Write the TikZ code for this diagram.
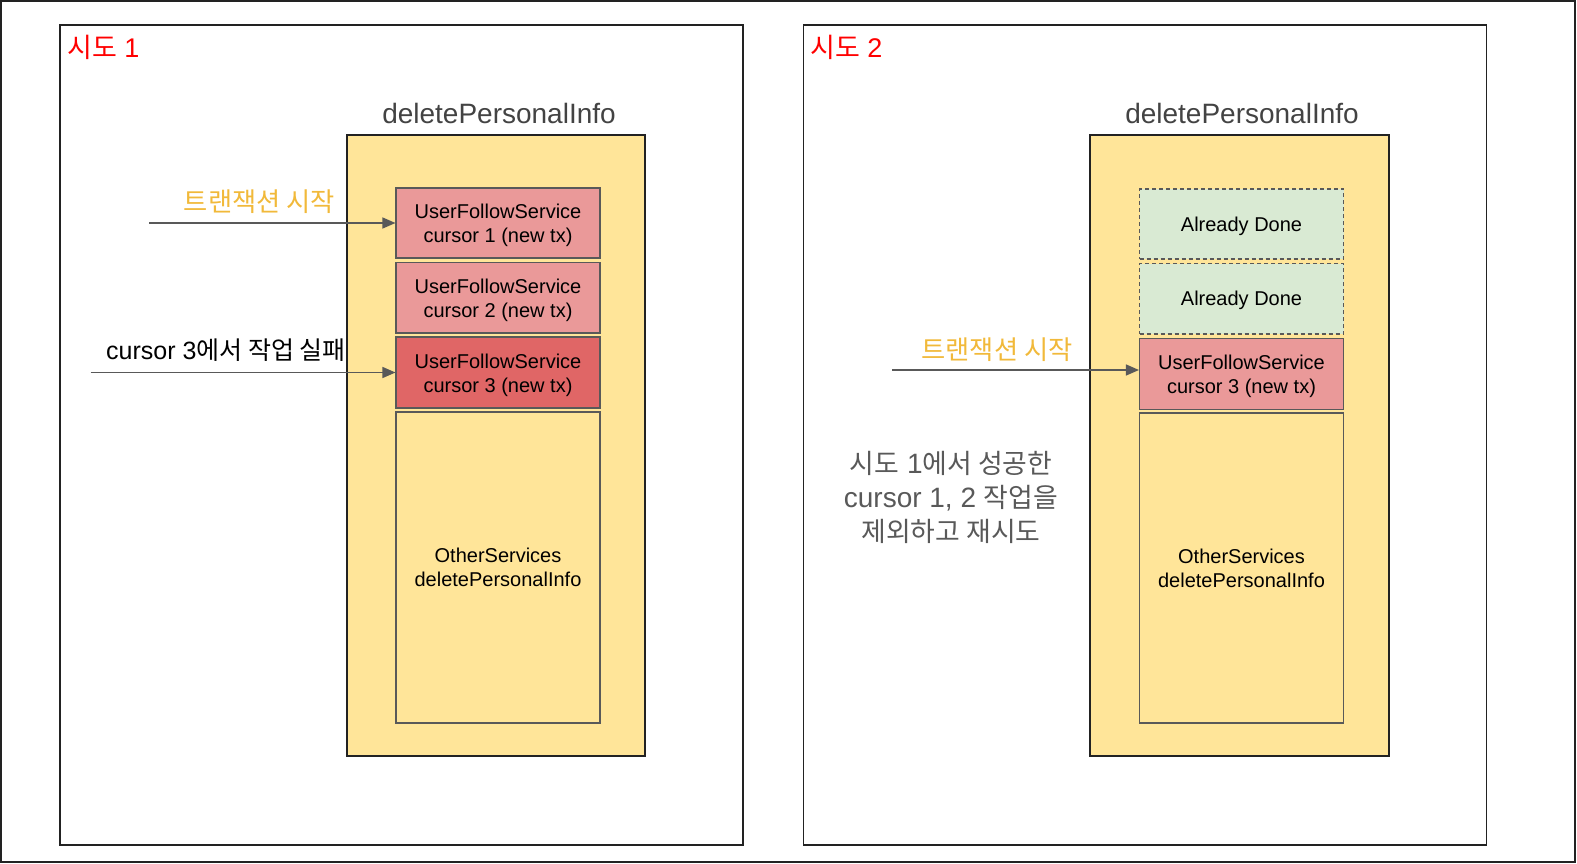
\documentclass[tikz,border=0pt]{standalone}
\usepackage{fontspec}
\setmainfont{Liberation Sans}
\newfontfamily\kr{Noto Sans CJK KR}
\newfontfamily\krn{Noto Sans CJK KR}[Scale=0.96]
\usetikzlibrary{arrows.meta}
\definecolor{cyellow}{HTML}{FFE599}
\definecolor{cpink}{HTML}{EA9999}
\definecolor{cred}{HTML}{E06666}
\definecolor{cgreen}{HTML}{D9EAD3}
\definecolor{cgray}{HTML}{595959}
\definecolor{ctitle}{HTML}{434343}
\definecolor{corange}{HTML}{F1B93A}
\definecolor{cframe}{HTML}{222222}
\newcommand\boxstrut{\rule{0pt}{20pt}}
\newcommand\linestrut{\rule{0pt}{18.6pt}}
\tikzset{
  frame/.style={draw=cframe, line width=1.5pt, inner sep=0pt, minimum width=683pt, minimum height=820pt},
  container/.style={draw=cframe, fill=cyellow, line width=1.3pt, inner sep=0pt, minimum width=298pt, minimum height=621pt},
  inbox/.style={draw=cgray, line width=1.1pt, inner sep=0pt, minimum width=204pt, align=center, text=black,
    font=\fontsize{20}{24}\selectfont},
  donebox/.style={inbox, fill=cgreen, dash pattern=on 4pt off 3pt},
  conn/.style={draw=cgray, line width=1.4pt, -{Triangle[length=13pt, width=11pt]}},
  title/.style={text=ctitle, font=\fontsize{28}{32}\selectfont, inner sep=0pt},
  attempt/.style={text=red, font=\fontsize{27}{30}\selectfont, inner sep=0pt, anchor=west},
  txlabel/.style={text=corange, font=\kr\fontsize{26.3}{30}\selectfont, inner sep=0pt},
  faillabel/.style={text=black, font=\fontsize{25}{28}\selectfont, inner sep=0pt},
  note/.style={text=cgray, font=\fontsize{28}{34}\selectfont, inner sep=0pt, align=center},
}
\begin{document}
\begin{tikzpicture}[x=1pt,y=-1pt]
\useasboundingbox (0,0) rectangle (1577,864);
\node[draw=cframe, line width=1.5pt, inner sep=0pt, minimum width=1574pt, minimum height=861pt] (outer) at (788,431.5) {};

% ---------- attempt 1 ----------
\node[frame] (f1) at (401.5,435) {};
\node[attempt] (t1) at (67,47) {{\kr 시도} 1};
\node[container] (y1) at (496,445.5) {};
\node[title] (h1) at (499,113) {deletePersonalInfo};
\node[inbox, fill=cpink, minimum height=70pt] (b1) at (498,223) {\boxstrut UserFollowService\\cursor 1 (new tx)};
\node[inbox, fill=cpink, minimum height=70.5pt] (b2) at (498,297.75) {\boxstrut UserFollowService\\cursor 2 (new tx)};
\node[inbox, fill=cred, minimum height=71pt] (b3) at (498,372.5) {\boxstrut UserFollowService\\cursor 3 (new tx)};
\node[inbox, fill=cyellow, minimum height=311pt] (b4) at (498,567.5) {OtherServices\\deletePersonalInfo};
\coordinate (s1) at (149,223);
\coordinate (s2) at (90.5,372.5);
\draw[conn] (s1) -- (s1 -| b1.west);
\draw[conn] (s2) -- (s2 -| b3.west);
\node[txlabel] (l1) at (259.5,202) {트랜잭션 시작};
\node[faillabel] (l2) at (226,350) {cursor 3{\kr 에서 작업 실패}};

% ---------- attempt 2 ----------
\node[frame] (f2) at (1145,435) {};
\node[attempt] (t2) at (810,47) {{\kr 시도} 2};
\node[container, minimum width=299pt] (y2) at (1239.5,445.5) {};
\node[title] (h2) at (1242,113) {deletePersonalInfo};
\node[donebox, minimum height=70pt] (d1) at (1241.5,224) {\linestrut Already Done};
\node[donebox, minimum height=70.5pt] (d2) at (1241.5,298.75) {\linestrut Already Done};
\node[inbox, fill=cpink, minimum height=70.5pt] (c3) at (1241.5,374) {\boxstrut UserFollowService\\cursor 3 (new tx)};
\node[inbox, fill=cyellow, minimum height=310pt] (c4) at (1241.5,568) {OtherServices\\deletePersonalInfo};
\coordinate (s3) at (892,370);
\draw[conn] (s3) -- (s3 -| c3.west);
\node[txlabel] (l3) at (997,350) {트랜잭션 시작};
\node[note] (n1) at (951,497) {{\krn 시도} 1{\krn 에서 성공한}\\cursor 1, 2 {\krn 작업을}\\{\krn 제외하고 재시도}};
\end{tikzpicture}
\end{document}
